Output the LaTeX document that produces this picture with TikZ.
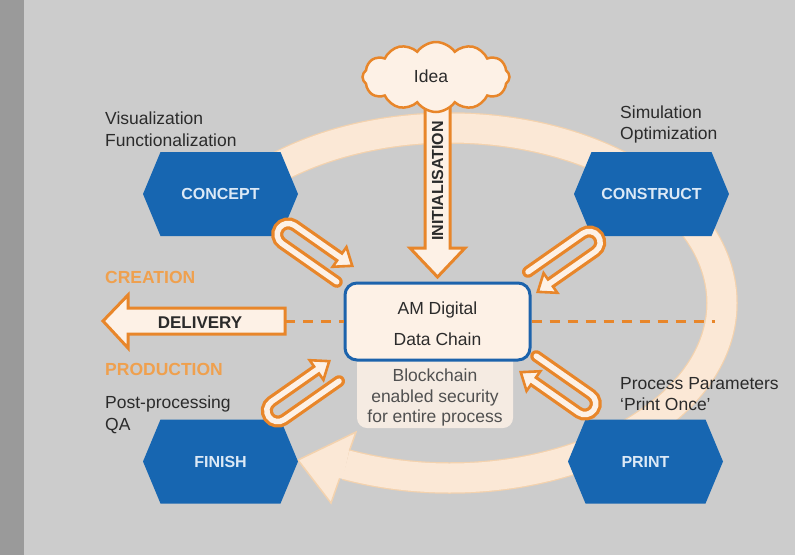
\documentclass[tikz,border=0pt]{standalone}
\usepackage{fontspec}
\setmainfont{Liberation Sans}
\usetikzlibrary{shapes.symbols}
\definecolor{bgc}{HTML}{CCCCCC}
\definecolor{barc}{HTML}{9A9A9A}
\definecolor{hexblue}{HTML}{1766B1}
\definecolor{hextxt}{HTML}{DCE9F6}
\definecolor{orng}{HTML}{E8862A}
\definecolor{orngtxt}{HTML}{EFA04E}
\definecolor{peach}{HTML}{FDF1E6}
\definecolor{ringfill}{HTML}{FBE8D6}
\definecolor{ringedge}{HTML}{F3D2AE}
\definecolor{boxblue}{HTML}{1C63AC}
\definecolor{chainbg}{HTML}{F5EBE2}
\definecolor{txt}{HTML}{2B2B2B}
\definecolor{greytxt}{HTML}{505050}
\begin{document}
\begin{tikzpicture}[x=1pt,y=-1pt,
  body/.style={font=\fontsize{17.5}{21}\selectfont, text=txt, inner sep=0pt, anchor=base west},
  stage/.style={font=\fontsize{17.5}{21}\selectfont\bfseries, text=orngtxt, inner sep=0pt, anchor=base west},
  hexlabel/.style={font=\fontsize{16}{19}\selectfont\bfseries, text=hextxt, inner sep=0pt},
  chaintxt/.style={font=\fontsize{17.5}{21}\selectfont, text=greytxt, inner sep=0pt, anchor=base},
  boxtxt/.style={font=\fontsize{17.5}{21}\selectfont, text=txt, inner sep=0pt, anchor=base},
  hexagon/.pic={\fill[hexblue] (-77.5,0) -- (-60,-42) -- (60,-42) -- (77.5,0) -- (60,42) -- (-60,42) -- cycle;},
  uturn/.pic={
    \draw[orng, line width=12, line cap=round] (55,-11) -- (0,-11) arc[start angle=-90, end angle=-270, radius=11] -- (67,11);
    \filldraw[fill=peach, draw=orng, line width=2.6, line join=miter] (55,-23) -- (70.5,-11) -- (55,1) -- cycle;
    \draw[peach, line width=5.5, line cap=round] (57,-11) -- (0,-11) arc[start angle=-90, end angle=-270, radius=11] -- (67,11);
  },
  dashline/.style={orng, line width=2.5, dash pattern=on 10pt off 8pt},
  bigarrow/.style={fill=peach, draw=orng, line width=3, line join=miter}
]
\useasboundingbox (0,0) rectangle (795,555);
\fill[bgc] (0,0) rectangle (795,555);
\fill[barc] (0,0) rectangle (24,555);

% ring
\coordinate (ringc) at (450,303);
\draw[ringedge, line width=31.5] (ringc) ++(-135:272 and 175) arc[start angle=-135, end angle=112.5, x radius=272, y radius=175];
\coordinate (rtip) at (298,460);
\coordinate (rb1) at (356,432);
\coordinate (rb2) at (331,503);
\filldraw[fill=ringfill, draw=ringedge, line width=1.5, line join=miter] (rb1) -- (rtip) -- (rb2) -- cycle;
\draw[ringfill, line width=29] (ringc) ++(-135:272 and 175) arc[start angle=-135, end angle=112.5, x radius=272, y radius=175];
\draw[ringfill, line width=29] (346,464.7) -- (341,463.6);

% hexagons
\pic at (220.5,194) {hexagon};
\pic at (651.5,194) {hexagon};
\pic at (220.5,461.5) {hexagon};
\pic at (645.5,461.5) {hexagon};
\node[hexlabel] (concept) at (220.5,194) {CONCEPT};
\node[hexlabel] (construct) at (651.5,194) {CONSTRUCT};
\node[hexlabel] (finish) at (220.5,461.5) {FINISH};
\node[hexlabel] (print) at (645.5,461.5) {PRINT};

% blockchain background and central box
\fill[chainbg, rounded corners=10] (357,350) rectangle (513,428);
\node[draw=boxblue, line width=3, fill=peach, rounded corners=12, minimum width=185, minimum height=77, inner sep=0pt] (amdc) at (437.5,321.5) {};
\node[boxtxt] (am1) at (437.5,314) {AM Digital};
\node[boxtxt] (am2) at (437.5,345) {Data Chain};
\node[chaintxt] (bc1) at (435,381) {Blockchain};
\node[chaintxt] (bc2) at (435,402) {enabled security};
\node[chaintxt] (bc3) at (435,422) {for entire process};

% U-turn arrows
\pic[rotate=-35] at (288.2,234.4) {uturn};
\pic[rotate=-145] at (589.2,242.4) {uturn};
\pic[rotate=35] at (277.8,410.6) {uturn};
\pic[rotate=145] at (584.8,403.6) {uturn};

% initialisation arrow
\filldraw[bigarrow] (425,100) -- (425,248) -- (410,248) -- (437.5,277) -- (465,248) -- (450,248) -- (450,100) -- cycle;
\node[font=\fontsize{16}{19}\selectfont\bfseries, text=txt, inner sep=0pt, rotate=90] (init) at (437.5,181) {INITIALISATION};

% idea cloud
\node[cloud, cloud puffs=12, cloud puff arc=110, aspect=2.1, minimum width=147, minimum height=70, inner sep=0pt, draw=orng, fill=peach, line width=2.5] (idea) at (436,77) {};
\node[boxtxt] (idealabel) at (431,82) {Idea};

% delivery arrow
\filldraw[bigarrow] (103,321) -- (128,295) -- (128,308) -- (285,308) -- (285,334) -- (128,334) -- (128,348) -- cycle;
\coordinate (delend) at (285,321.5);
\node[font=\fontsize{17}{20}\selectfont\bfseries, text=txt, inner sep=0pt, anchor=base] (delivery) at (200,328) {DELIVERY};
\draw[dashline] (delend) -- (amdc.west);
\coordinate (dashend) at (715,321.5);
\draw[dashline] (amdc.east) -- (dashend);

% labels
\node[body] (vis1) at (105,124) {Visualization};
\node[body] (vis2) at (105,146) {Functionalization};
\node[body] (sim1) at (620,118) {Simulation};
\node[body] (sim2) at (620,139) {Optimization};
\node[stage] (creation) at (105,283) {CREATION};
\node[stage] (production) at (105,375) {PRODUCTION};
\node[body] (post1) at (105,408) {Post-processing};
\node[body] (post2) at (105,430) {QA};
\node[body] (pp1) at (620,389) {Process Parameters};
\node[body] (pp2) at (620,410) {`Print Once'};
\end{tikzpicture}
\end{document}
